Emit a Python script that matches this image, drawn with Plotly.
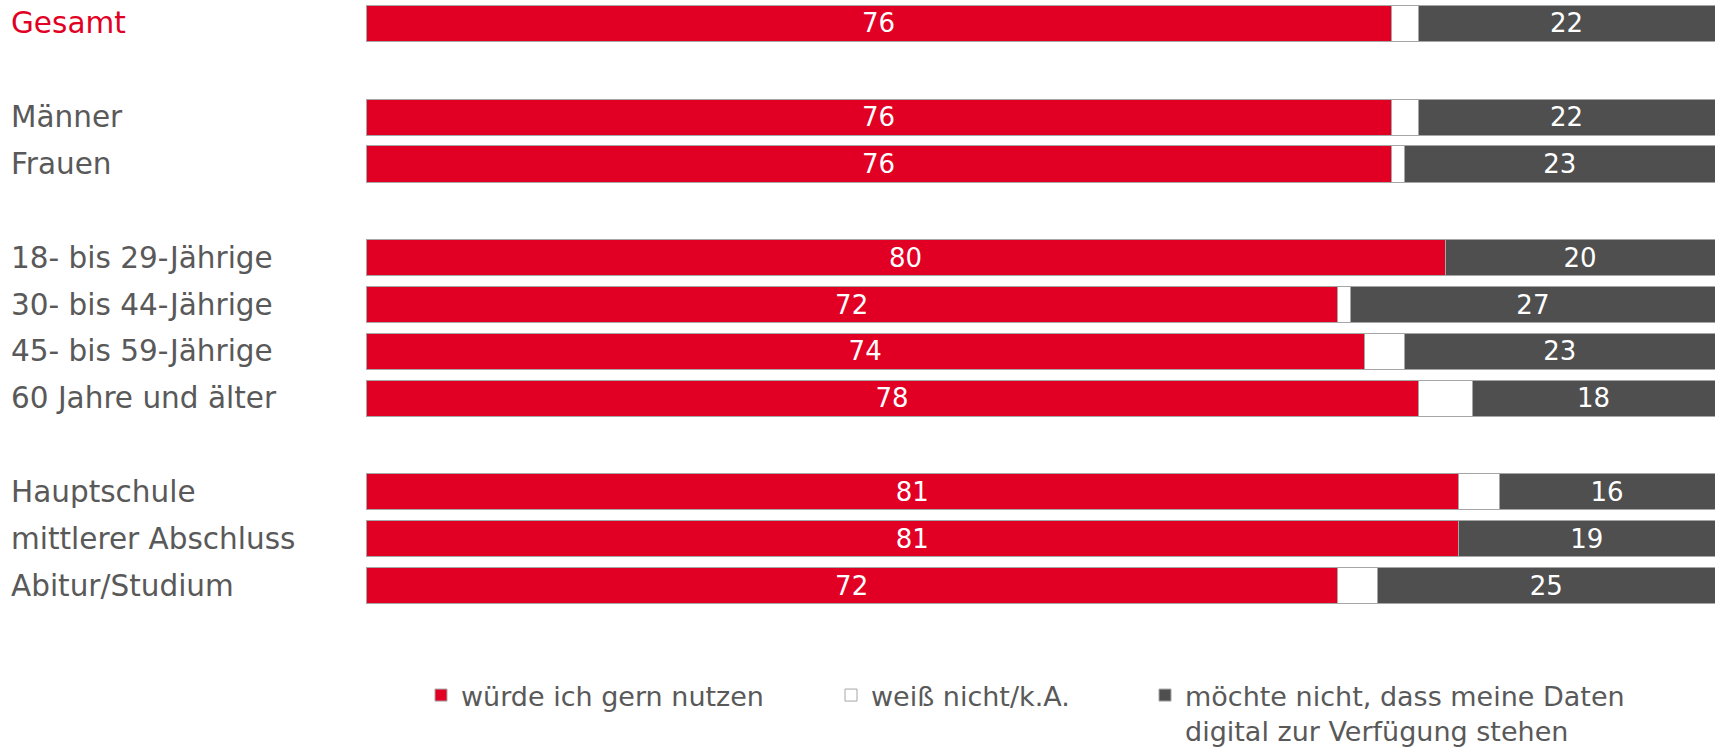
import plotly.graph_objects as go

categories = ["Gesamt", "Männer", "Frauen", "18- bis 29-Jährige", "30- bis 44-Jährige",
              "45- bis 59-Jährige", "60 Jahre und älter", "Hauptschule",
              "mittlerer Abschluss", "Abitur/Studium"]
# order of rows incl. spacer rows between groups
row_order = ["Gesamt", " ", "Männer", "Frauen", "  ", "18- bis 29-Jährige", "30- bis 44-Jährige",
             "45- bis 59-Jährige", "60 Jahre und älter", "   ", "Hauptschule",
             "mittlerer Abschluss", "Abitur/Studium"]

nutzen = [76, 76, 76, 80, 72, 74, 78, 81, 81, 72]
weiss_nicht = [2, 2, 1, 0, 1, 3, 4, 3, 0, 3]
nicht = [22, 22, 23, 20, 27, 23, 18, 16, 19, 25]

series_names = ["würde ich gern nutzen", "weiß nicht/k.A.",
                "möchte nicht, dass meine Daten<br>digital zur Verfügung stehen"]

RED = "#E10024"
DARK = "#4F4F4F"
GREY_TXT = "#595959"
EDGE = "#A6A6A6"
FONT = "DejaVu Sans, Verdana, sans-serif"

fig = go.Figure()
fig.add_trace(go.Bar(y=categories, x=nutzen, orientation="h", name=series_names[0],
                     marker=dict(color=RED, line=dict(color=EDGE, width=1)),
                     text=nutzen, textposition="inside", insidetextanchor="middle",
                     textfont=dict(color="white", size=26, family=FONT),
                     legend="legend", showlegend=True))
fig.add_trace(go.Bar(y=categories, x=weiss_nicht, orientation="h", name=series_names[1],
                     marker=dict(color="white", line=dict(color=EDGE, width=1)),
                     textposition="none", legend="legend2", showlegend=True))
fig.add_trace(go.Bar(y=categories, x=nicht, orientation="h", name=series_names[2],
                     marker=dict(color=DARK, line=dict(color=EDGE, width=1)),
                     text=nicht, textposition="inside", insidetextanchor="middle",
                     textfont=dict(color="white", size=26, family=FONT),
                     legend="legend3", showlegend=True))

W, H = 1715, 747
ML, MB = 366, 138
pw = W - ML
ph = H - MB

def px_to_paper_x(px):
    return (px - ML) / pw

def px_to_paper_y(py):
    return (ph - py) / ph

for c in categories:
    fig.add_annotation(x=px_to_paper_x(9), xref="paper", y=c, yref="y",
                       text=c, showarrow=False, xanchor="left", yanchor="middle",
                       font=dict(size=29.5, family=FONT, color=RED if c == "Gesamt" else GREY_TXT))

leg_common = dict(orientation="h", yanchor="top", xanchor="left", valign="top",
                  font=dict(size=27, family=FONT, color=GREY_TXT),
                  bgcolor="rgba(0,0,0,0)", borderwidth=0)
leg_y = px_to_paper_y(671)
fig.update_layout(
    width=W, height=H,
    margin=dict(l=ML, r=0, t=0, b=MB, autoexpand=False),
    paper_bgcolor="white", plot_bgcolor="white",
    barmode="stack", bargap=0.23,
    hovermode=False,
    showlegend=True,
    xaxis=dict(range=[0, 100], visible=False, fixedrange=True),
    yaxis=dict(type="category", categoryorder="array", categoryarray=row_order,
               range=[len(row_order) - 0.5, -0.5], visible=False, fixedrange=True),
    legend=dict(x=px_to_paper_x(421), y=leg_y, **leg_common),
    legend2=dict(x=px_to_paper_x(831), y=leg_y, **leg_common),
    legend3=dict(x=px_to_paper_x(1145), y=leg_y, **leg_common),
    uniformtext=dict(minsize=26, mode="show"),
)

fig.write_html("out.html", config={"displayModeBar": False},
               post_script="document.body.style.margin='0';document.body.style.overflow='hidden';")
